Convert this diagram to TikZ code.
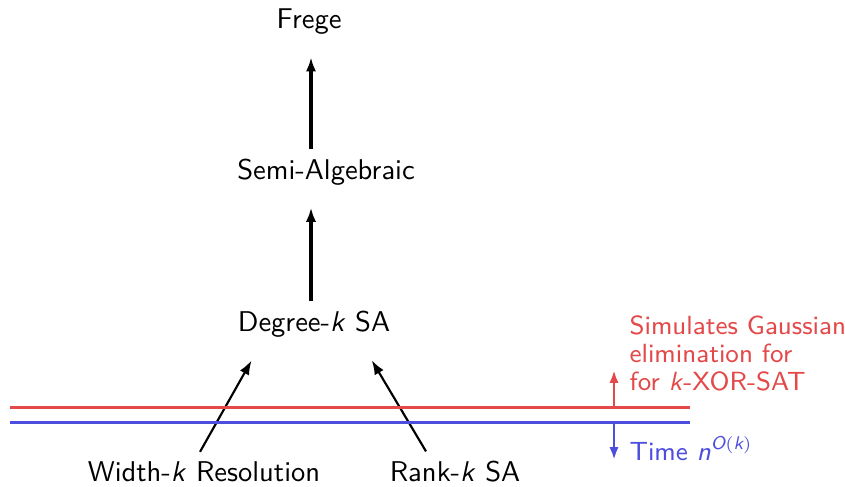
\documentclass[tikz,border=0pt]{standalone}
\usepackage{amsmath}
\usetikzlibrary{arrows.meta}
\definecolor{simred}{RGB}{228,72,72}
\definecolor{timeblue}{RGB}{78,78,222}
\begin{document}
\begin{tikzpicture}[x=0.35pt,y=-0.35pt,
  every node/.style={font=\sffamily\fontsize{10}{12}\selectfont},
  bigarrow/.style={-{Latex[length=5pt,width=3.6pt]}, line width=1.15pt},
  diagarrow/.style={-{Latex[length=5pt,width=3.6pt]}, line width=0.75pt},
  sidearrow/.style={-{Latex[length=4.5pt,width=3.2pt]}, line width=0.9pt},
  barline/.style={line width=1.05pt},
  sidetext/.style={font=\sffamily\fontsize{9.2}{9.8}\selectfont, align=left, inner sep=0pt}]
\useasboundingbox (0,0) rectangle (845,486);
\node (frege) at (309,22) {Frege};
\node (semi) at (326,172) {Semi-Algebraic};
\node (deg) at (314,324) {Degree-\textsl{k} SA};
\node (width) at (204,472) {Width-\textsl{k} Resolution};
\node (rank) at (455,472) {Rank-\textsl{k} SA};
\coordinate (spine) at (311,0);
\draw[bigarrow, shorten >=4.3pt] (semi.north -| spine) -- (frege.south -| spine);
\draw[bigarrow, shorten >=4.3pt] (deg.north -| spine) -- (semi.south -| spine);
\draw[diagarrow, shorten >=5.3pt] (width.north -| 200,0) -- (deg.south -| 259,0);
\draw[diagarrow, shorten >=5.3pt] (rank.north -| 426,0) -- (deg.south -| 364,0);
\coordinate (rl) at (10,407);
\coordinate (rr) at (690,407);
\coordinate (bl) at (10,422);
\coordinate (br) at (690,422);
\draw[barline, simred] (rl) -- (rr);
\draw[barline, timeblue] (bl) -- (br);
\coordinate (ra0) at (614,407);
\coordinate (ra1) at (614,370);
\coordinate (ba0) at (614,422);
\coordinate (ba1) at (614,460);
\draw[sidearrow, simred] (ra0) -- (ra1);
\draw[sidearrow, timeblue] (ba0) -- (ba1);
\node[sidetext, text=simred, anchor=north west] (simtext) at (629,315) {Simulates Gaussian\\elimination for\\for \textsl{k}-XOR-SAT};
\node[sidetext, text=timeblue, anchor=base west] (timetext) at (629,460) {Time $\textsl{n}^{\textsl{O}(\textsl{k})}$};
\end{tikzpicture}
\end{document}
